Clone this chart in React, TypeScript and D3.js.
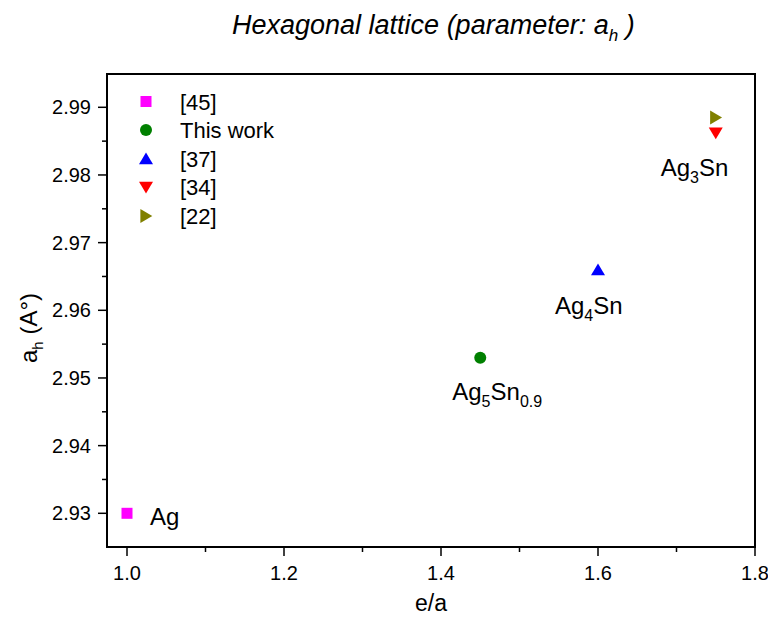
import React from "react";
import * as d3 from "d3";

const seriesNames = ["[45]", "This work", "[37]", "[34]", "[22]"];
const seriesColors = ["#ff00ff", "#008000", "#0000ff", "#ff0000", "#808000"];
const seriesShapes = ["square", "circle", "up", "down", "right"];
const xValues = [1.0, 1.45, 1.6, 1.75, 1.75];
const yValues = [2.93, 2.953, 2.966, 2.9862, 2.9885];

const xTicks = [1.0, 1.2, 1.4, 1.6, 1.8];
const yTicks = [2.93, 2.94, 2.95, 2.96, 2.97, 2.98, 2.99];

const annotations = [
  { base: "Ag", parts: [["Ag", ""]], x: 1.0, y: 2.93, dx: 23, dy: 12 },
  { base: "Ag5Sn0.9", parts: [["Ag", ""], ["5", "sub"], ["Sn", ""], ["0.9", "sub"]], x: 1.45, y: 2.953, dx: -28, dy: 42 },
  { base: "Ag4Sn", parts: [["Ag", ""], ["4", "sub"], ["Sn", ""]], x: 1.6, y: 2.966, dx: -43, dy: 44.5 },
  { base: "Ag3Sn", parts: [["Ag", ""], ["3", "sub"], ["Sn", ""]], x: 1.75, y: 2.9862, dx: -55, dy: 43 },
];

const W = 768;
const H = 623;
const L = 107, R = 755, T = 74, B = 547;

function Marker({ shape, color, cx, cy }: { shape: string; color: string; cx: number; cy: number }) {
  if (shape === "square") return <rect x={cx - 5.5} y={cy - 5.5} width={11} height={11} fill={color} />;
  if (shape === "circle") return <circle cx={cx} cy={cy} r={6} fill={color} />;
  const s = 7;
  let pts: [number, number][] = [];
  if (shape === "up") pts = [[cx - s, cy + s * 0.8], [cx + s, cy + s * 0.8], [cx, cy - s * 0.9]];
  if (shape === "down") pts = [[cx - s, cy - s * 0.8], [cx + s, cy - s * 0.8], [cx, cy + s * 0.9]];
  if (shape === "right") pts = [[cx - s * 0.8, cy - s], [cx - s * 0.8, cy + s], [cx + s * 0.9, cy]];
  return <polygon points={pts.map((p) => p.join(",")).join(" ")} fill={color} />;
}

export default function App() {
  const x = d3.scaleLinear().domain([1.0, 1.8]).range([127, 755]);
  const y = d3.scaleLinear().domain([2.93, 2.99]).range([513.3, 107.3]);
  const font = "'Liberation Sans', Arial, sans-serif";
  const xMinor = d3.range(1.1, 1.8, 0.2);
  const yMinor = d3.range(2.935, 2.99, 0.01);

  return (
    <svg width={W} height={H} style={{ position: "absolute", left: 0, top: 0, background: "#fff" }} fontFamily={font}>
      <rect x={0} y={0} width={W} height={H} fill="#fff" />
      <text x={232} y={34} fontSize={27} fontStyle="italic" fill="#000">
        Hexagonal lattice (parameter: a
        <tspan fontSize={17} dy={7}>h</tspan>
        <tspan dy={-7}> )</tspan>
      </text>
      {/* frame */}
      <rect x={L} y={T} width={R - L} height={B - T} fill="none" stroke="#000" strokeWidth={2} />
      {/* x ticks */}
      {xTicks.map((t) => (
        <g key={"xt" + t}>
          <line x1={x(t)} x2={x(t)} y1={B} y2={B + 9} stroke="#000" strokeWidth={1.5} />
          <text x={x(t)} y={580} textAnchor="middle" fontSize={20} fill="#000">{t.toFixed(1)}</text>
        </g>
      ))}
      {xMinor.map((t) => (
        <line key={"xm" + t} x1={x(t)} x2={x(t)} y1={B} y2={B + 5} stroke="#000" strokeWidth={1.5} />
      ))}
      {yTicks.map((t) => (
        <g key={"yt" + t}>
          <line x1={L - 9} x2={L} y1={y(t)} y2={y(t)} stroke="#000" strokeWidth={1.5} />
          <text x={L - 16} y={y(t) + 7} textAnchor="end" fontSize={20} fill="#000">{t.toFixed(2)}</text>
        </g>
      ))}
      {yMinor.map((t) => (
        <line key={"ym" + t} x1={L - 5} x2={L} y1={y(t)} y2={y(t)} stroke="#000" strokeWidth={1.5} />
      ))}
      <text x={431} y={611} textAnchor="middle" fontSize={23} fill="#000">e/a</text>
      <text transform="translate(37,328) rotate(-90)" textAnchor="middle" fontSize={24} fill="#000">
        a<tspan fontSize={15} dy={6}>h</tspan>
        <tspan dy={-6}> (A°)</tspan>
      </text>
      {/* legend */}
      {seriesNames.map((n, i) => (
        <g key={"lg" + n}>
          <Marker shape={seriesShapes[i]} color={seriesColors[i]} cx={146} cy={101.5 + i * 28.6} />
          <text x={180} y={101.5 + i * 28.6 + 8} fontSize={22} fill="#000">{n}</text>
        </g>
      ))}
      {/* points */}
      {seriesNames.map((n, i) => (
        <Marker key={"pt" + n} shape={seriesShapes[i]} color={seriesColors[i]} cx={x(xValues[i])} cy={y(yValues[i])} />
      ))}
      {/* annotations */}
      {annotations.map((a) => (
        <text key={a.base} x={x(a.x) + a.dx} y={y(a.y) + a.dy} fontSize={24} fill="#000">
          {a.parts.map(([s, k], j) => {
            const prev = j > 0 ? a.parts[j - 1][1] : "";
            const dy = k === "sub" && prev !== "sub" ? 7 : k !== "sub" && prev === "sub" ? -7 : 0;
            return (
              <tspan key={j} fontSize={k === "sub" ? 16 : 24} dy={dy}>{s}</tspan>
            );
          })}
        </text>
      ))}
    </svg>
  );
}
